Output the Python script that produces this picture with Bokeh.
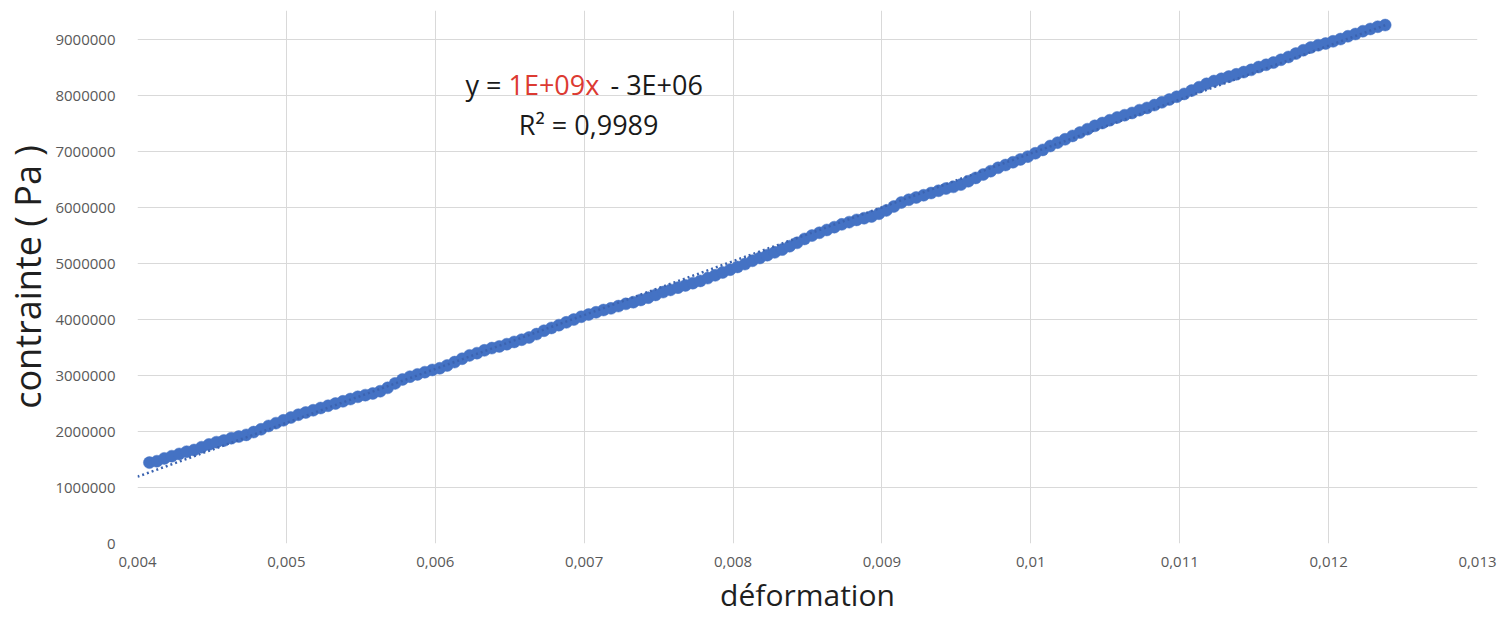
from bokeh.plotting import figure
from bokeh.models import Range1d, FixedTicker, CustomJSTickFormatter, Label
from bokeh.embed import file_html
from bokeh.resources import INLINE
import numpy as np

# ---- data ----
strain = [
    0.00408, 0.00413, 0.00418, 0.00423, 0.00428, 0.00433, 0.00438, 0.00443, 0.00448, 0.00453,
    0.00458, 0.00463, 0.00468, 0.00473, 0.00478, 0.00483, 0.00488, 0.00493, 0.00498, 0.00503,
    0.00508, 0.00513, 0.00518, 0.00523, 0.00528, 0.00533, 0.00538, 0.00543, 0.00548, 0.00553,
    0.00558, 0.00563, 0.00568, 0.00573, 0.00578, 0.00583, 0.00588, 0.00593, 0.00598, 0.00603,
    0.00608, 0.00613, 0.00618, 0.00623, 0.00628, 0.00633, 0.00638, 0.00643, 0.00648, 0.00653,
    0.00658, 0.00663, 0.00668, 0.00673, 0.00678, 0.00683, 0.00688, 0.00693, 0.00698, 0.00703,
    0.00708, 0.00713, 0.00718, 0.00723, 0.00728, 0.00733, 0.00738, 0.00743, 0.00748, 0.00753,
    0.00758, 0.00763, 0.00768, 0.00773, 0.00778, 0.00783, 0.00788, 0.00793, 0.00798, 0.00803,
    0.00808, 0.00813, 0.00818, 0.00823, 0.00828, 0.00833, 0.00838, 0.00843, 0.00848, 0.00853,
    0.00858, 0.00863, 0.00868, 0.00873, 0.00878, 0.00883, 0.00888, 0.00893, 0.00898, 0.00903,
    0.00908, 0.00913, 0.00918, 0.00923, 0.00928, 0.00933, 0.00938, 0.00943, 0.00948, 0.00953,
    0.00958, 0.00963, 0.00968, 0.00973, 0.00978, 0.00983, 0.00988, 0.00993, 0.00998, 0.01003,
    0.01008, 0.01013, 0.01018, 0.01023, 0.01028, 0.01033, 0.01038, 0.01043, 0.01048, 0.01053,
    0.01058, 0.01063, 0.01068, 0.01073, 0.01078, 0.01083, 0.01088, 0.01093, 0.01098, 0.01103,
    0.01108, 0.01113, 0.01118, 0.01123, 0.01128, 0.01133, 0.01138, 0.01143, 0.01148, 0.01153,
    0.01158, 0.01163, 0.01168, 0.01173, 0.01178, 0.01183, 0.01188, 0.01193, 0.01198, 0.01203,
    0.01208, 0.01213, 0.01218, 0.01223, 0.01228, 0.01233, 0.01238,
]
stress = [
    1445000, 1470000, 1520000, 1560000, 1600000, 1640000, 1670000, 1720000, 1770000, 1810000,
    1840000, 1880000, 1910000, 1940000, 1990000, 2040000, 2100000, 2150000, 2200000, 2250000,
    2300000, 2340000, 2380000, 2420000, 2460000, 2500000, 2540000, 2580000, 2620000, 2650000,
    2680000, 2720000, 2780000, 2860000, 2930000, 2980000, 3020000, 3060000, 3100000, 3130000,
    3180000, 3240000, 3300000, 3360000, 3400000, 3450000, 3490000, 3520000, 3560000, 3600000,
    3640000, 3680000, 3740000, 3800000, 3850000, 3900000, 3950000, 4000000, 4050000, 4090000,
    4130000, 4170000, 4200000, 4240000, 4280000, 4310000, 4350000, 4390000, 4440000, 4490000,
    4530000, 4570000, 4610000, 4650000, 4690000, 4740000, 4790000, 4840000, 4890000, 4940000,
    4990000, 5050000, 5100000, 5150000, 5200000, 5250000, 5310000, 5370000, 5440000, 5500000,
    5550000, 5600000, 5650000, 5700000, 5740000, 5780000, 5810000, 5840000, 5890000, 5950000,
    6020000, 6090000, 6140000, 6180000, 6220000, 6260000, 6300000, 6340000, 6370000, 6410000,
    6470000, 6530000, 6590000, 6650000, 6710000, 6760000, 6810000, 6860000, 6910000, 6970000,
    7030000, 7100000, 7160000, 7220000, 7280000, 7340000, 7400000, 7460000, 7510000, 7560000,
    7610000, 7650000, 7690000, 7740000, 7780000, 7830000, 7880000, 7930000, 7980000, 8030000,
    8090000, 8150000, 8210000, 8260000, 8300000, 8340000, 8380000, 8420000, 8460000, 8510000,
    8550000, 8590000, 8640000, 8690000, 8750000, 8810000, 8860000, 8900000, 8930000, 8970000,
    9010000, 9060000, 9100000, 9150000, 9190000, 9230000, 9260000,
]
x_ticks = [0.004, 0.005, 0.006, 0.007, 0.008, 0.009, 0.010, 0.011, 0.012, 0.013]
y_ticks = [0, 1000000, 2000000, 3000000, 4000000, 5000000, 6000000, 7000000, 8000000, 9000000]
x_title = "déformation"
y_title = "contrainte ( Pa )"
eq_parts = ["y = ", "1E+09x", " - 3E+06"]
r2_text = "R² = 0,9989"

FONT = "Open Sans"
BLUE = "#4472C4"

p = figure(width=1503, height=618, output_backend="svg", toolbar_location=None,
           x_range=Range1d(0.004, 0.013), y_range=Range1d(0, 9520000),
           min_border_left=137, min_border_right=26, min_border_top=10, min_border_bottom=75)
p.outline_line_color = None
p.background_fill_color = "white"
p.border_fill_color = "white"

# axes
p.xaxis.ticker = FixedTicker(ticks=x_ticks)
p.yaxis.ticker = FixedTicker(ticks=y_ticks)
p.xaxis.formatter = CustomJSTickFormatter(code="return String(Number(tick.toFixed(3))).replace('.', ',');")
p.yaxis.formatter = CustomJSTickFormatter(code="return Math.round(tick).toString();")
for ax in (p.xaxis, p.yaxis):
    ax.axis_line_color = None
    ax.major_tick_line_color = None
    ax.minor_tick_line_color = None
    ax.major_label_text_font = FONT
    ax.major_label_text_font_size = "15px"
    ax.major_label_text_color = "#595959"
    ax.axis_label_text_font = FONT
    ax.axis_label_text_font_style = "normal"
    ax.axis_label_text_color = "#1f1f1f"
p.xaxis.major_label_standoff = 7
p.yaxis.major_label_standoff = 16
p.xaxis.axis_label = x_title
p.yaxis.axis_label = y_title
p.xaxis.axis_label_text_font_size = "30px"
p.yaxis.axis_label_text_font_size = "36px"
p.xaxis.axis_label_standoff = 4
p.yaxis.axis_label_standoff = 0

p.xgrid.ticker = FixedTicker(ticks=x_ticks)
p.ygrid.ticker = FixedTicker(ticks=y_ticks)
for g in (p.xgrid, p.ygrid):
    g.grid_line_color = "#d9d9d9"
    g.grid_line_width = 1

# data
p.scatter(strain, stress, size=12, fill_color=BLUE, line_color=BLUE, line_width=0.5)

# linear trendline (least squares)
coef = np.polyfit(np.array(strain), np.array(stress), 1)
tx = np.array([x_ticks[0], strain[-1]])
p.line(tx, coef[0] * tx + coef[1], line_color="#3B63B0", line_width=2.5, line_dash="2 3")

# equation labels
eq_x = [0.0062028, 0.0064916, 0.0071766]
eq_colors = ["#1a1a1a", "#DC3A32", "#1a1a1a"]
for txt, xx, col in zip(eq_parts, eq_x, eq_colors):
    p.add_layout(Label(x=xx, y=8193000, text=txt, text_font=FONT, text_font_size="27px",
                       text_color=col, text_align="left", text_baseline="alphabetic"))
p.add_layout(Label(x=0.00703, y=7484000, text=r2_text, text_font=FONT, text_font_size="27px",
                   text_color="#1a1a1a", text_align="center", text_baseline="alphabetic"))

open("out.html", "w").write(file_html(p, INLINE))
